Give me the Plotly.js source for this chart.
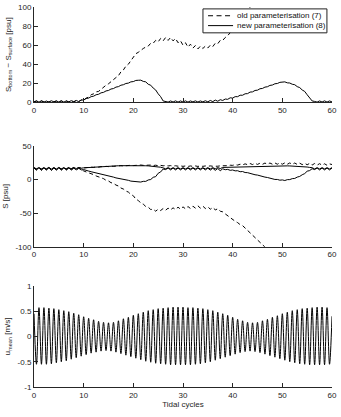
<!DOCTYPE html>
<html>
<head>
<meta charset="utf-8">
<script src="https://cdn.plot.ly/plotly-3.0.1.min.js"></script>
<style>html,body{margin:0;padding:0;background:#fff}#chart{width:341px;height:417px}</style>
</head>
<body>
<div id="chart"></div>
<script>
// sampling step (tidal cycles) for the salinity series, values from x=0 to x=60
const sampleStep = 0.5;

// Panel 1: S_bottom - S_surface [psu]
const diffOld = [
  0.5,1.5,0.3,1.6,0.4,1.4,0.3,1.7,0.5,1.5,0.4,1.6,0.3,1.5,0.5,1.8,0.6,2.0,0.8,2.5,
  2.5,4.5,5.5,8,9,11,11.5,14,15.5,18,19.5,22,23.5,26,28,32,34,38,40,44,
  47,51,52.5,55,56.5,58,59,62,62,65,63.5,67,64.5,68,65,68,64.5,67,62.5,64.5,
  60,62.5,58,61,57,59.5,56,59,56.5,59,57,60,58.5,62,61.5,65,65,68,70,73,
  76,80,83,87,90,94,96,100,103,106,null,null,null,null,null,null,null,null,null,null,
  null,null,null,null,null,null,null,null,null,null,null,null,null,null,null,null,null,null,null,null,
  null
];
const diffNew = [
  0.5,1.5,0.3,1.6,0.4,1.4,0.3,1.7,0.5,1.5,0.4,1.6,0.3,1.5,0.5,1.8,0.6,2.0,0.8,2.5,
  2.5,4.0,4.5,6.0,6.5,8.0,8.5,10.0,10.5,12.0,12.5,14.0,14.5,16.0,16.5,18.0,18.5,19.8,20.2,21.5,
  21.8,23.0,23.2,23.3,22.0,21.5,19.0,18.0,15.0,13.0,9.0,6.0,1.5,1.0,0.3,1.5,0.4,1.6,0.3,1.5,
  0.4,1.6,0.3,1.5,0.5,1.6,0.4,1.5,0.5,1.7,0.6,2.0,0.8,2.4,1.2,2.8,2.0,3.5,3.2,4.8,
  4.5,6.0,6.0,7.5,7.5,9.0,9.2,10.8,11.0,12.5,12.8,14.3,14.6,16.0,16.4,17.8,18.2,19.5,19.8,21.0,
  21.0,21.5,20.5,20.3,19.0,18.5,16.5,15.5,13.0,11.5,8.0,5.0,1.5,1.0,0.3,1.5,0.4,1.6,0.3,1.5,
  0.5
];

// Panel 2: S [psu]
const sBottomOld = [
  17.8,16,18,15.8,17.9,16,18,15.8,17.8,16,18,16,17.9,16,18,16.2,18,16.5,18,17,
  17.5,18.2,17.8,18.6,18.2,19,18.6,19.4,19,19.8,19.4,20.2,19.8,20.5,20.1,20.8,20.4,21.1,20.7,21.4,
  21,21.6,21.2,21.8,21.3,21.8,21.2,21.7,21,21.5,20.8,21.3,20.6,21.1,20.4,20.9,20.2,20.7,20,20.5,
  19.8,20.4,19.7,20.4,19.7,20.4,19.7,20.4,19.8,20.4,19.8,20.5,19.9,20.5,20,20.6,20.3,21,20.8,21.5,
  21.3,22.3,21.7,23,22,23.5,22.3,24,22.5,24.3,22.7,24.5,22.8,24.7,22.9,24.8,23,24.9,23,25,
  23,25,22.9,24.9,22.8,24.8,22.6,24.6,22.4,24.4,22.2,24.2,21.8,24,21.6,23.8,21.5,23.6,21.4,23.5,
  22.5
];
const sSurfaceOld = [
  17.3,14.5,17.7,14.2,17.5,14.6,17.7,14.1,17.3,14.5,17.6,14.4,17.6,14.5,17.5,14.4,17.4,14.5,17.2,14.5,
  13,11.5,10.5,8.5,7.5,5.5,4.5,2.5,1.5,-1,-2,-4.5,-5.5,-8,-9.5,-12.5,-14,-17,-18.5,-22,
  -24,-29,-31,-35,-36.5,-40,-41,-44.5,-44,-47,-44,-46,-43,-45.5,-42.5,-45,-42,-44.5,-41,-44,
  -40.5,-43.5,-40,-43,-39.5,-42.5,-39,-42.5,-39.5,-43,-40.5,-44,-41.5,-45,-43.5,-47,-48,-51,-54,-57,
  -59,-62,-64,-67,-68.5,-72,-75,-79,-82,-86,-89,-93,-96,-100,-104,null,null,null,null,null,
  null,null,null,null,null,null,null,null,null,null,null,null,null,null,null,null,null,null,null,null,
  null
];
const sBottomNew = [
  17.8,16,18,15.8,17.9,16,18,15.8,17.8,16,18,16,17.9,16,18,16.2,18,16.5,18,17,
  17.6,17.9,18.2,18.5,18.8,19.0,19.3,19.5,19.7,19.9,20.1,20.3,20.4,20.6,20.7,20.8,20.9,21,21.1,21.1,
  21.2,21.2,21.1,21,20.9,20.7,20.5,20.2,20,19.6,19.2,18.5,17.5,16.2,17.8,16,17.8,16,17.8,16,
  17.8,16,17.8,16,17.8,16,17.8,16,17.8,16,17.8,16,17.9,16.2,18,16.5,18.2,18.3,18.5,18.7,
  18.9,19.1,19.3,19.5,19.6,19.8,19.9,20.0,20.1,20.2,20.3,20.4,20.4,20.5,20.5,20.5,20.6,20.6,20.6,20.6,
  20.6,20.5,20.5,20.4,20.3,20.2,20.0,19.8,19.5,19.2,18.8,18.2,17.8,16,17.8,16,17.8,16,17.8,16,
  17.8
];
const sSurfaceNew = [
  17.3,14.5,17.7,14.2,17.5,14.6,17.7,14.1,17.3,14.5,17.6,14.4,17.6,14.5,17.5,14.4,17.4,14.5,17.2,14.5,
  15,13.5,12.8,11.8,11,10,9.2,8.2,7.4,6.2,5.5,4.4,3.8,2.6,2,0.8,0.4,-0.8,-1,-2.2,
  -2.3,-3.5,-3,-3.6,-2.5,-2.6,-0.5,0.2,3.5,4.5,9.5,11.5,15.8,15,17.3,14.5,17.3,14.5,17.3,14.5,
  17.3,14.5,17.3,14.5,17.3,14.5,17.3,14.5,17.3,14.5,17.2,14.2,17,13.8,16.6,13.3,16.2,14.8,15.3,13.9,
  14.4,13.1,13.3,11.8,12.1,10.6,10.4,9.0,8.6,7.3,6.8,5.5,5.0,3.8,3.2,2,1.4,0.3,0.3,-0.8,
  -0.4,-1.3,0,0.1,1.5,1.8,3.8,4.8,7.3,9,12.6,13.5,16.3,15,17.3,14.5,17.3,14.5,17.3,14.5,
  17.3
];

// Panel 3: u_mean [m/s] — flood peaks at whole cycles 0..60, ebb troughs at half cycles 0.5..59.5
const uPeaks = [
  0.45,0.57,0.57,0.56,0.55,0.53,0.51,0.49,0.46,0.43,
  0.39,0.36,0.33,0.30,0.28,0.27,0.28,0.31,0.35,0.38,
  0.42,0.45,0.48,0.51,0.53,0.55,0.56,0.57,0.58,0.58,
  0.58,0.57,0.57,0.56,0.55,0.53,0.51,0.48,0.45,0.42,
  0.38,0.34,0.31,0.28,0.27,0.28,0.31,0.34,0.38,0.41,
  0.45,0.48,0.51,0.53,0.55,0.56,0.57,0.58,0.58,0.57,
  0.40
];
const uTroughs = [
  -0.55,-0.55,-0.55,-0.54,-0.52,-0.50,-0.48,-0.45,-0.42,-0.39,
  -0.36,-0.33,-0.31,-0.29,-0.28,-0.29,-0.31,-0.34,-0.37,-0.40,
  -0.43,-0.46,-0.49,-0.51,-0.53,-0.54,-0.55,-0.56,-0.56,-0.56,
  -0.56,-0.56,-0.55,-0.54,-0.52,-0.50,-0.47,-0.44,-0.41,-0.38,
  -0.35,-0.32,-0.30,-0.29,-0.30,-0.32,-0.35,-0.38,-0.41,-0.44,
  -0.47,-0.50,-0.52,-0.54,-0.55,-0.56,-0.56,-0.56,-0.56,-0.55
];

const xTicks = [0,10,20,30,40,50,60];
const y1Ticks = [0,20,40,60,80,100];
const y2Ticks = [-100,-50,0,50];
const y2TickText = ['-100','-50','0','50'];
const y3Ticks = [-1,-0.5,0,0.5,1];
const y3TickText = ['-1','-0.5','0','0.5','1'];
const legendNames = ['old parameterisation (7)','new parameterisation (8)'];

const xs = diffNew.map((_, i) => i * sampleStep);
const uX = [], uY = [];
uPeaks.forEach((p, k) => {
  uX.push(k); uY.push(p);
  if (k < uTroughs.length) { uX.push(k + 0.5); uY.push(uTroughs[k]); }
});

const ink = '#000';
const dashed = {color: ink, width: 1, dash: '4px,3px'};
const solid = {color: ink, width: 1};

const traces = [
  {x: xs, y: diffOld, type: 'scatter', mode: 'lines', line: dashed, name: legendNames[0], xaxis: 'x', yaxis: 'y'},
  {x: xs, y: diffNew, type: 'scatter', mode: 'lines', line: solid, name: legendNames[1], xaxis: 'x', yaxis: 'y'},
  {x: xs, y: sBottomOld, type: 'scatter', mode: 'lines', line: dashed, xaxis: 'x2', yaxis: 'y2'},
  {x: xs, y: sSurfaceOld, type: 'scatter', mode: 'lines', line: dashed, xaxis: 'x2', yaxis: 'y2'},
  {x: xs, y: sBottomNew, type: 'scatter', mode: 'lines', line: solid, xaxis: 'x2', yaxis: 'y2'},
  {x: xs, y: sSurfaceNew, type: 'scatter', mode: 'lines', line: solid, xaxis: 'x2', yaxis: 'y2'},
  {x: uX, y: uY, type: 'scatter', mode: 'lines', line: {color: ink, width: 1, shape: 'spline', smoothing: 1}, xaxis: 'x3', yaxis: 'y3'}
];

const fontFam = 'Liberation Sans, Arial, Helvetica, sans-serif';
const axCol = '#262626';
const fs = 8;
const tickFont = {family: fontFam, size: fs, color: axCol};
function xAx(anchor, title) {
  const a = {anchor: anchor, range: [0, 60], tickvals: xTicks, showline: true, linecolor: axCol, linewidth: 1,
    ticks: 'inside', ticklen: 4, tickcolor: axCol, showgrid: false, zeroline: false, tickfont: tickFont,
    automargin: false, fixedrange: true};
  if (title) a.title = {text: title, font: {family: fontFam, size: fs, color: axCol}, standoff: 2};
  return a;
}
function yAx(anchor, domain, range, vals, text, title) {
  const a = {anchor: anchor, domain: domain, range: range, tickvals: vals, showline: true, linecolor: axCol, linewidth: 1,
    ticks: 'inside', ticklen: 4, tickcolor: axCol, showgrid: false, zeroline: false, tickfont: tickFont,
    automargin: false, fixedrange: true,
    title: {text: title, font: {family: fontFam, size: fs, color: axCol}, standoff: 5}};
  if (text) a.ticktext = text;
  return a;
}

// compact legend box (paper coordinates of the top panel)
const lgX0 = 0.567, lgX1 = 0.983, lgY0 = 0.932, lgY1 = 0.995;
const rowY = [0.977, 0.951];
const sampleX0 = 0.584, sampleX1 = 0.668, labelX = 0.679;
const shapes = [
  {type: 'rect', xref: 'paper', yref: 'paper', x0: lgX0, x1: lgX1, y0: lgY0, y1: lgY1,
    fillcolor: '#fff', line: {color: '#222', width: 1}, layer: 'above'},
  {type: 'line', xref: 'paper', yref: 'paper', x0: sampleX0, x1: sampleX1, y0: rowY[0], y1: rowY[0],
    line: {color: ink, width: 1, dash: '5px,3.5px'}, layer: 'above'},
  {type: 'line', xref: 'paper', yref: 'paper', x0: sampleX0, x1: sampleX1, y0: rowY[1], y1: rowY[1],
    line: {color: ink, width: 1}, layer: 'above'}
];
const annotations = legendNames.map((t, i) => ({
  text: t, xref: 'paper', yref: 'paper', x: labelX, y: rowY[i], xanchor: 'left', yanchor: 'middle',
  showarrow: false, font: {family: fontFam, size: fs, color: '#111'}, borderpad: 0
}));

const layout = {
  width: 341, height: 417,
  margin: {l: 34, r: 9, t: 7, b: 30},
  paper_bgcolor: '#fff', plot_bgcolor: '#fff',
  showlegend: false,
  shapes: shapes,
  annotations: annotations,
  xaxis: xAx('y'),
  yaxis: yAx('x', [0.749, 1], [0, 100], y1Ticks, null, 'S<sub>bottom</sub> − S<sub>surface</sub> [psu]'),
  xaxis2: xAx('y2'),
  yaxis2: yAx('x2', [0.369, 0.634], [-100, 50], y2Ticks, y2TickText, 'S [psu]'),
  xaxis3: xAx('y3', 'Tidal cycles'),
  yaxis3: yAx('x3', [0, 0.266], [-1, 1], y3Ticks, y3TickText, 'u<sub>mean</sub> [m/s]')
};

Plotly.newPlot('chart', traces, layout, {displayModeBar: false, staticPlot: true});
</script>
</body>
</html>
